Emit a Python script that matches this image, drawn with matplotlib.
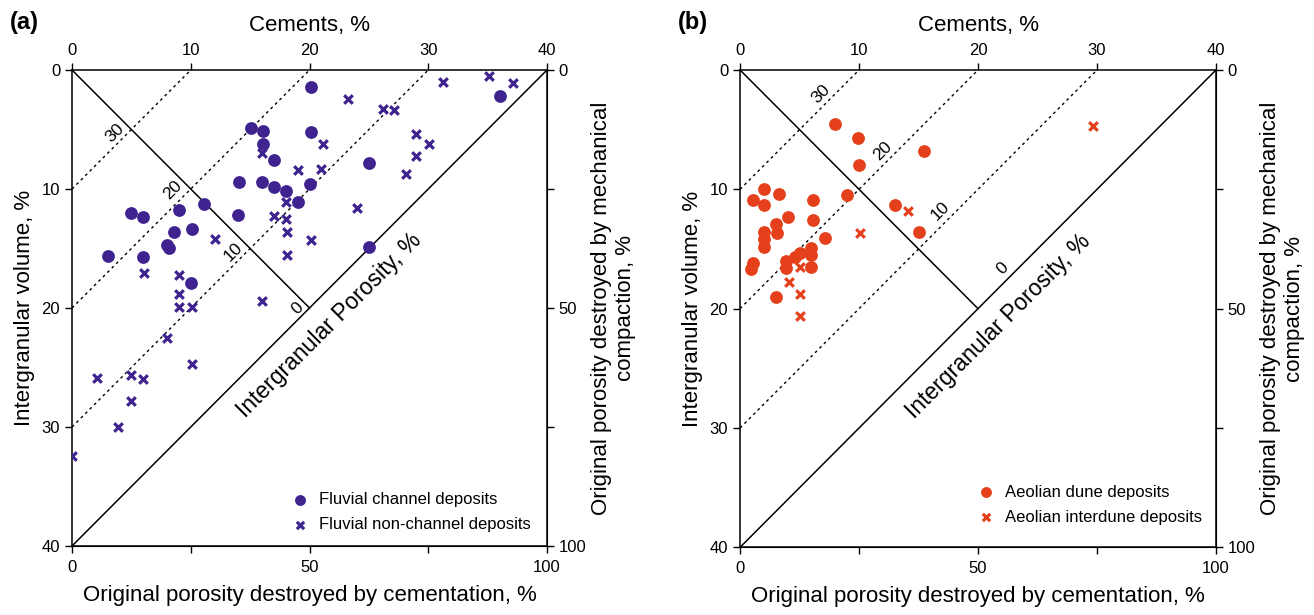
import matplotlib
matplotlib.use("Agg")
from matplotlib import pyplot as plt

plt.rcParams['font.family'] = ['Liberation Sans', 'DejaVu Sans']

# panel (a) - fluvial
fluv_ch_cem = [15.1, 16.1, 16.1, 17.0, 14.1, 16.0, 17.0, 18.0, 19.0, 20.0, 11.1, 9.0, 5.0, 6.0,
               14.0, 8.6, 10.1, 8.0, 8.2, 3.0, 6.0, 10.0, 20.1, 20.1, 25.0, 36.0, 25.0]
fluv_ch_igv = [4.85, 5.1, 6.2, 7.6, 9.4, 9.4, 9.8, 10.2, 11.1, 9.6, 11.3, 11.8, 12.0, 12.35,
               12.2, 13.6, 13.4, 14.7, 15.0, 15.6, 15.7, 17.9, 1.4, 5.2, 7.8, 2.2, 14.9]
fluv_nc_cem = [16.0, 19.0, 18.0, 17.0, 18.0, 18.1, 20.1, 12.0, 18.1, 6.1, 9.0, 9.0, 9.0, 10.1,
               16.0, 8.0, 10.1, 2.1, 5.0, 6.0, 5.0, 3.9, 0.0, 31.2, 35.1, 37.1, 23.2, 26.2,
               27.1, 21.1, 29.0, 30.1, 29.0, 28.1, 21.0, 24.0]
fluv_nc_igv = [7.0, 8.4, 11.1, 12.3, 12.5, 13.6, 14.3, 14.2, 15.55, 17.1, 17.25, 18.8, 19.9, 19.9,
               19.4, 22.5, 24.7, 25.9, 25.6, 26.0, 27.8, 30.0, 32.4, 1.0, 0.5, 1.1, 2.4, 3.3,
               3.4, 6.2, 5.35, 6.2, 7.2, 8.7, 8.3, 11.6]

# panel (b) - aeolian
aeo_dune_cem = [8.0, 9.9, 15.5, 10.0, 2.0, 3.3, 1.1, 2.0, 6.1, 9.0, 13.0, 4.0, 3.0, 6.1, 2.0,
                3.1, 15.0, 7.1, 2.0, 2.0, 6.0, 6.0, 5.0, 4.6, 3.9, 3.9, 6.0, 1.1, 0.9, 3.0]
aeo_dune_igv = [4.5, 5.7, 6.8, 8.0, 10.0, 10.4, 10.9, 11.3, 10.9, 10.5, 11.3, 12.3, 12.9, 12.6,
                13.6, 13.7, 13.6, 14.1, 14.2, 14.8, 14.9, 15.5, 15.3, 15.7, 16.0, 16.6, 16.5,
                16.2, 16.7, 19.0]
aeo_inter_cem = [29.7, 14.1, 10.1, 5.0, 4.1, 5.0, 5.0]
aeo_inter_igv = [4.7, 11.8, 13.7, 16.5, 17.8, 18.8, 20.6]

tick_vals = [0, 10, 20, 30, 40]
pct_ticks = [0, 25, 50, 75, 100]
pct_labels = ['0', '', '50', '', '100']

purple = '#3f2490'
orange = '#e5401c'


def panel(ax, letter, pts, labels, color, lab_pos, leg_at):
    ax.set_xlim(0, 40)
    ax.set_ylim(40, 0)
    ax.xaxis.tick_top()
    ax.xaxis.set_label_position('top')
    ax.set_xticks(tick_vals)
    ax.set_yticks(tick_vals)
    ax.tick_params(direction='out', length=5, width=1, labelsize=12)
    ax.set_xlabel('Cements, %', fontsize=16, labelpad=9)
    ax.set_ylabel('Intergranular volume, %', fontsize=16, labelpad=5)
    for s in ax.spines.values():
        s.set_linewidth(1.1)

    bot = ax.secondary_xaxis('bottom', functions=(lambda v: v * 2.5, lambda v: v / 2.5))
    bot.set_xticks(pct_ticks)
    bot.set_xticklabels(pct_labels)
    bot.tick_params(direction='out', length=5, width=1, labelsize=12, pad=5)
    bot.set_xlabel('Original porosity destroyed by cementation, %', fontsize=16, labelpad=7)

    rgt = ax.secondary_yaxis('right', functions=(lambda v: v * 2.5, lambda v: v / 2.5))
    rgt.set_yticks(pct_ticks)
    rgt.set_yticklabels(pct_labels)
    rgt.tick_params(direction='out', length=5, width=1, labelsize=12)
    rgt.set_ylabel('Original porosity destroyed by mechanical\ncompaction, %', fontsize=16,
                   labelpad=3)

    # guide lines
    ax.plot([0, 40], [40, 0], color='black', lw=1.1, zorder=1)
    ax.plot([0, 20], [0, 20], color='black', lw=1.1, zorder=1)
    for v in [10, 20, 30]:
        ax.plot([0, v], [v, 0], color='black', lw=1, ls=(0, (2, 2.5)), zorder=1)
    for (tx, ty), t in zip(lab_pos, ['30', '20', '10', '0']):
        ax.text(tx, ty, t, rotation=45, fontsize=12.5, ha='center', va='center')
    ax.text(21.7, 21.5, 'Intergranular Porosity, %', rotation=45, fontsize=16.5,
            ha='center', va='center')

    (c_x, c_y), (x_x, x_y) = pts
    ax.scatter(c_x, c_y, s=85, color=color, marker='o', linewidths=0, label=labels[0], zorder=3)
    ax.scatter(x_x, x_y, s=38, color=color, marker='x', linewidths=2.3, label=labels[1], zorder=3)
    ax.legend(loc='lower left', bbox_to_anchor=leg_at, frameon=False, fontsize=12,
              handletextpad=0.15, labelspacing=0.6, markerscale=0.85)
    ax.text(-0.13, 1.1, letter, transform=ax.transAxes, fontsize=17, fontweight='bold',
            ha='left', va='center')


fig = plt.figure(figsize=(13.14, 6.15), dpi=100)
ax1 = fig.add_axes([0.0548, 0.1122, 0.3615, 0.7740])
ax2 = fig.add_axes([0.5632, 0.1100, 0.3622, 0.7762])

panel(ax1, '(a)', ((fluv_ch_cem, fluv_ch_igv), (fluv_nc_cem, fluv_nc_igv)),
      ['Fluvial channel deposits', 'Fluvial non-channel deposits'], purple,
      [(3.6, 5.3), (8.5, 10.1), (13.6, 15.3), (19.0, 20.0)], (0.413, -0.002))
panel(ax2, '(b)', ((aeo_dune_cem, aeo_dune_igv), (aeo_inter_cem, aeo_inter_igv)),
      ['Aeolian dune deposits', 'Aeolian interdune deposits'], orange,
      [(6.8, 2.0), (12.0, 6.8), (16.8, 11.8), (22.1, 16.6)], (0.45, 0.016))

fig.savefig('out.png', dpi=100)
